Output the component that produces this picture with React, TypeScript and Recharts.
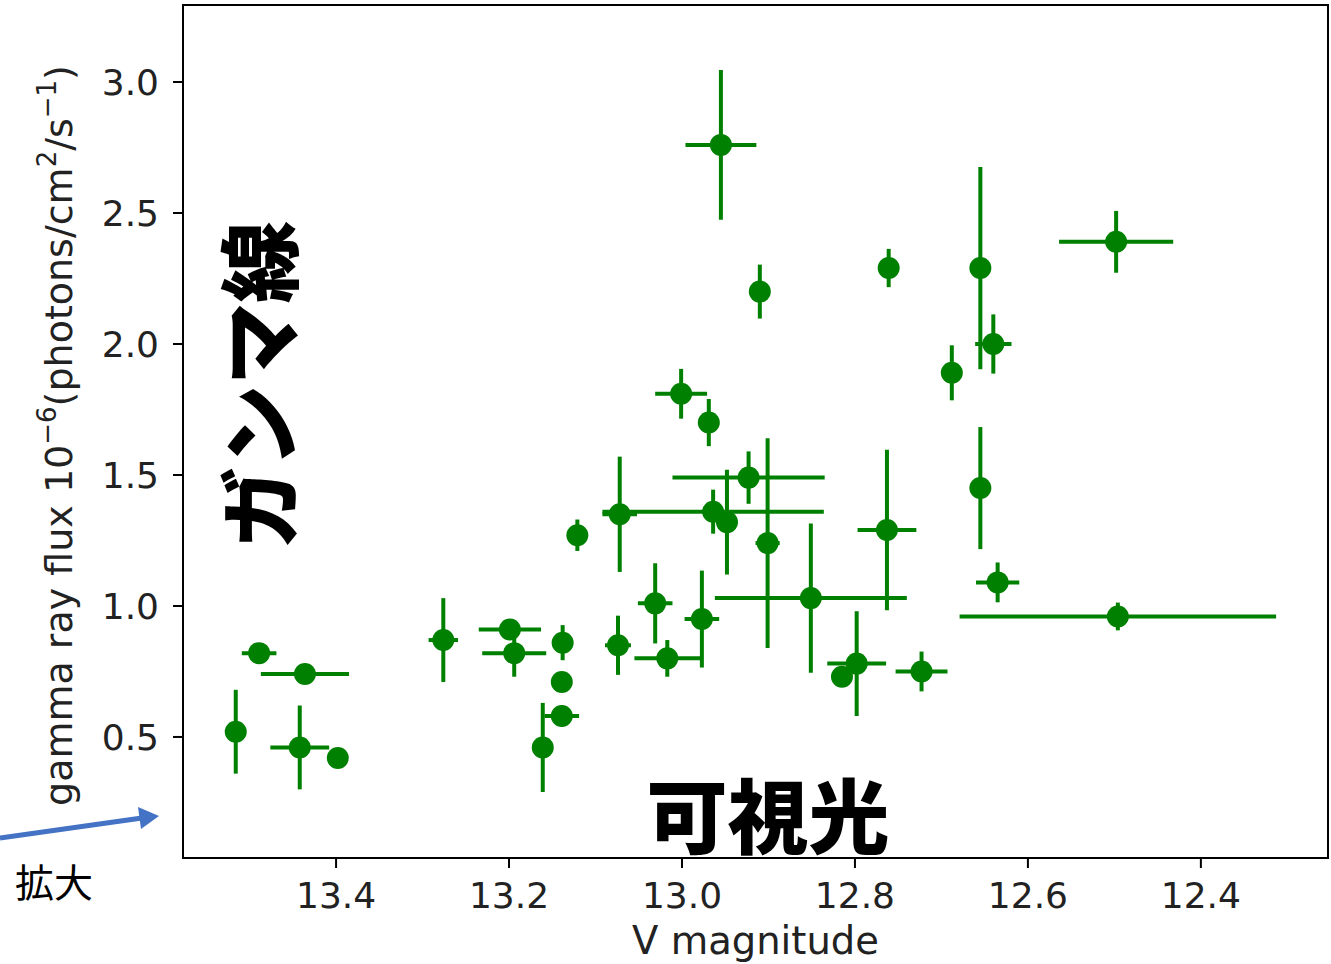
import React from "react";
import {
  ScatterChart, Scatter, XAxis, YAxis, ErrorBar, ReferenceArea, Label,
} from "recharts";

// V magnitude (x) and gamma ray flux (y) with their error bars
const vMag = [
  13.516, 13.489, 13.436, 13.442, 13.398, 13.276, 13.199, 13.194, 13.138, 13.139,
  13.139, 13.161, 13.121, 13.072, 12.964, 12.948, 12.923, 12.901, 13.031, 12.977,
  13.074, 13.017, 12.851, 12.815, 12.798, 12.723, 12.763, 12.955, 12.910, 12.761,
  13.001, 12.969, 12.655, 12.498, 12.640, 12.688, 12.655, 12.635, 12.496,
];
const flux = [
  0.52, 0.82, 0.74, 0.46, 0.42, 0.87, 0.91, 0.82, 0.86, 0.71,
  0.58, 0.46, 1.27, 1.35, 1.36, 1.32, 1.49, 1.24, 1.01, 0.95,
  0.85, 0.80, 1.03, 0.73, 0.78, 0.75, 1.29, 2.76, 2.20, 2.29,
  1.81, 1.70, 2.29, 2.39, 2.00, 1.89, 1.45, 1.09, 0.96,
];
const vMagErr = [
  0, 0.02, 0.051, 0.034, 0.01, 0.017, 0.036, 0.037, 0, 0,
  0.02, 0.005, 0, 0.02, 0.128, 0.012, 0.088, 0.014, 0.02, 0.02,
  0.015, 0.038, 0.111, 0, 0.034, 0.03, 0.034, 0.041, 0, 0,
  0.03, 0, 0, 0.066, 0.021, 0.005, 0, 0.025, 0.183,
];
const fluxErr = [
  0.16, 0.02, 0, 0.16, 0.02, 0.16, 0.02, 0.09, 0.067, 0,
  0.04, 0.17, 0.06, 0.22, 0.084, 0.2, 0.1, 0.4, 0.153, 0.185,
  0.113, 0.07, 0.285, 0, 0.2, 0.076, 0.306, 0.286, 0.103, 0.073,
  0.095, 0.09, 0.386, 0.118, 0.113, 0.105, 0.233, 0.076, 0.053,
];
const xTicks = [13.4, 13.2, 13.0, 12.8, 12.6, 12.4];
const yTicks = [0.5, 1.0, 1.5, 2.0, 2.5, 3.0];
const xLim: [number, number] = [12.253, 13.577];
const yLim: [number, number] = [0.038, 3.294];

const points = vMag.map((x, i) => ({ x, y: flux[i], xe: vMagErr[i], ye: fluxErr[i] }));

const GREEN = "#008000";
const FONT = "'DejaVu Sans', sans-serif";
const JP = "'Noto Sans CJK JP', sans-serif";

const dot = (p: any) => <circle cx={p.cx} cy={p.cy} r={11} fill={GREEN} />;

const yLabel = (props: any) => {
  const vb = props.viewBox || { x: 0, y: 0, width: 183, height: 853 };
  const cx = vb.x + 72;
  const cy = vb.y + vb.height / 2 + 4;
  return (
    <text
      x={cx}
      y={cy}
      transform={`rotate(-90 ${cx} ${cy})`}
      textAnchor="middle"
      fontFamily={FONT}
      fontSize={38}
      fill="#222"
    >
      gamma ray flux 10
      <tspan fontSize={26} dy={-16}>−6</tspan>
      <tspan dy={16}>(photons/cm</tspan>
      <tspan fontSize={26} dy={-16}>2</tspan>
      <tspan dy={16}>/s</tspan>
      <tspan fontSize={26} dy={-16}>−1</tspan>
      <tspan dy={16}>)</tspan>
    </text>
  );
};

export default function App() {
  return (
    <div style={{ position: "absolute", left: 0, top: 0, width: 1331, height: 964, background: "#fff" }}>
      <ScatterChart width={1331} height={964} margin={{ top: 5, right: 3, left: 0, bottom: 0 }}>
        <XAxis
          type="number"
          dataKey="x"
          domain={xLim}
          reversed
          ticks={xTicks}
          allowDataOverflow
          tickFormatter={(v: number) => v.toFixed(1)}
          height={106}
          tickSize={10}
          tickMargin={14}
          stroke="#000"
          strokeWidth={2}
          tick={{ fontSize: 36, fill: "#222", fontFamily: FONT }}
        >
          <Label
            value="V magnitude"
            position="insideBottom"
            offset={10}
            style={{ fontSize: 38.5, fill: "#222", fontFamily: FONT }}
          />
        </XAxis>
        <YAxis
          type="number"
          dataKey="y"
          domain={yLim}
          ticks={yTicks}
          allowDataOverflow
          tickFormatter={(v: number) => v.toFixed(1)}
          width={183}
          tickSize={10}
          tickMargin={14}
          stroke="#000"
          strokeWidth={2}
          tick={{ fontSize: 36, fill: "#222", fontFamily: FONT }}
        >
          <Label content={yLabel} />
        </YAxis>
        <ReferenceArea
          x1={xLim[0]}
          x2={xLim[1]}
          y1={yLim[0]}
          y2={yLim[1]}
          fill="none"
          fillOpacity={0}
          stroke="#000"
          strokeWidth={2}
          ifOverflow="visible"
        />
        <Scatter data={points} fill={GREEN} shape={dot} isAnimationActive={false}>
          <ErrorBar dataKey="ye" direction="y" width={0} stroke={GREEN} strokeWidth={4} isAnimationActive={false} />
          <ErrorBar dataKey="xe" direction="x" width={0} stroke={GREEN} strokeWidth={4} isAnimationActive={false} />
        </Scatter>
      </ScatterChart>
      <svg
        width={1331}
        height={964}
        style={{ position: "absolute", left: 0, top: 0, pointerEvents: "none" }}
      >
        <text
          x={255}
          y={385}
          transform="rotate(-90 255 385)"
          textAnchor="middle"
          dominantBaseline="central"
          fontFamily={JP}
          fontWeight={900}
          fontSize={82}
          fill="#000"
        >
          ガンマ線
        </text>
        <text
          x={768}
          y={811}
          textAnchor="middle"
          dominantBaseline="central"
          fontFamily={JP}
          fontWeight={900}
          fontSize={81}
          fill="#000"
        >
          可視光
        </text>
        <text x={54} y={880} textAnchor="middle" dominantBaseline="central" fontFamily={JP} fontSize={39} fill="#000">
          拡大
        </text>
        <line x1={0} y1={838} x2={142} y2={818} stroke="#4472c4" strokeWidth={5} />
        <polygon points="159,816 138,807 141,829" fill="#4472c4" />
      </svg>
    </div>
  );
}
